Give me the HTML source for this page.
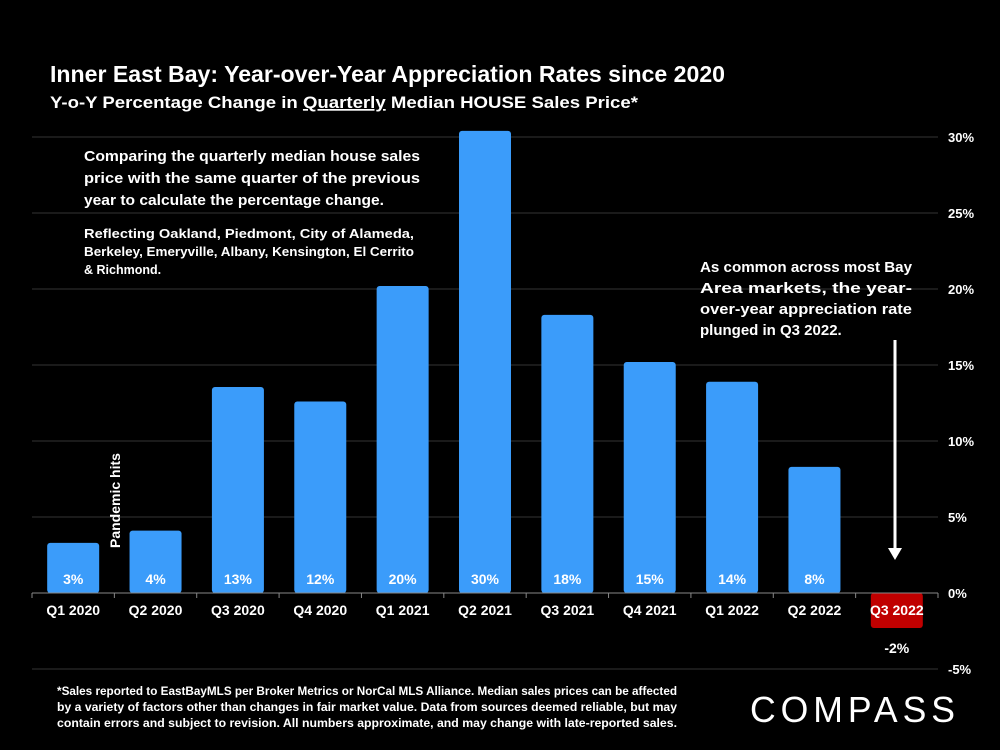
<!DOCTYPE html>
<html><head><meta charset="utf-8"><style>
body{margin:0;background:#000;}
svg{display:block;font-family:"Liberation Sans",sans-serif;}
</style></head><body>
<svg id="c" width="1000" height="750" viewBox="0 0 1000 750">
<rect width="1000" height="750" fill="#000"/>
<text x="50" y="82" fill="#fff" font-size="23" font-weight="bold" textLength="675" lengthAdjust="spacingAndGlyphs">Inner East Bay: Year-over-Year Appreciation Rates since 2020</text>
<text x="50" y="108" fill="#fff" font-size="17" font-weight="bold" textLength="588" lengthAdjust="spacingAndGlyphs">Y-o-Y Percentage Change in <tspan text-decoration="underline">Quarterly</tspan> Median HOUSE Sales Price*</text>
<g id="grid"></g>
<g id="bars"></g>
<g id="ann" font-weight="bold" fill="#fff">
<g font-size="15">
<text x="84" y="161" textLength="336" lengthAdjust="spacingAndGlyphs">Comparing the quarterly median house sales</text>
<text x="84" y="183" textLength="336" lengthAdjust="spacingAndGlyphs">price with the same quarter of the previous</text>
<text x="84" y="205" textLength="300" lengthAdjust="spacingAndGlyphs">year to calculate the percentage change.</text>
</g>
<g font-size="12.5">
<text x="84" y="238" textLength="330" lengthAdjust="spacingAndGlyphs">Reflecting Oakland, Piedmont, City of Alameda,</text>
<text x="84" y="256" textLength="330" lengthAdjust="spacingAndGlyphs">Berkeley, Emeryville, Albany, Kensington, El Cerrito</text>
<text x="84" y="274">&amp; Richmond.</text>
</g>
<g font-size="15">
<text x="700" y="272" textLength="212" lengthAdjust="spacingAndGlyphs">As common across most Bay</text>
<text x="700" y="293" textLength="212" lengthAdjust="spacingAndGlyphs">Area markets, the year-</text>
<text x="700" y="314" textLength="212" lengthAdjust="spacingAndGlyphs">over-year appreciation rate</text>
<text x="700" y="335">plunged in Q3 2022.</text>
</g>
<text transform="translate(120,548) rotate(-90)" font-size="14">Pandemic hits</text>
<line x1="895" y1="340" x2="895" y2="548" stroke="#fff" stroke-width="3"/>
<polygon points="888,548 902,548 895,560" fill="#fff"/>
</g>
<g fill="#fff" font-size="12" font-weight="bold">
<text x="57" y="695" textLength="620" lengthAdjust="spacingAndGlyphs">*Sales reported to EastBayMLS per Broker Metrics or NorCal MLS Alliance. Median sales prices can be affected</text>
<text x="57" y="711" textLength="620" lengthAdjust="spacingAndGlyphs">by a variety of factors other than changes in fair market value. Data from sources deemed reliable, but may</text>
<text x="57" y="727" textLength="620" lengthAdjust="spacingAndGlyphs">contain errors and subject to revision. All numbers approximate, and may change with late-reported sales.</text>
</g>
<text x="750" y="722" fill="#fff" font-size="36" letter-spacing="5" textLength="210" lengthAdjust="spacingAndGlyphs">COMPASS</text>
</svg>
<script>
const categories=["Q1 2020","Q2 2020","Q3 2020","Q4 2020","Q1 2021","Q2 2021","Q3 2021","Q4 2021","Q1 2022","Q2 2022","Q3 2022"];
const values=[3.3,4.1,13.55,12.6,20.2,30.4,18.3,15.2,13.9,8.3,-2.3];
const valueLabels=["3%","4%","13%","12%","20%","30%","18%","15%","14%","8%","-2%"];
const ticks=[-5,0,5,10,15,20,25,30];
const NS="http://www.w3.org/2000/svg";
const x0=32,x1=938,slot=(x1-x0)/categories.length;
const y=v=>593-v*15.2;
const xc=i=>x0+slot*(i+0.5);
function mk(t,a,p){const e=document.createElementNS(NS,t);for(const k in a)e.setAttribute(k,a[k]);p.appendChild(e);return e;}
const g=document.getElementById('grid'),b=document.getElementById('bars');
ticks.forEach(t=>{
 if(t!==0){const l=mk('line',{x1:x0,x2:x1,y1:y(t),y2:y(t),stroke:'#333','stroke-width':1},g);
 
 }
 const tx=mk('text',{x:948,y:y(t)+5,fill:'#fff','font-size':13,'font-weight':'bold'},g);
 tx.textContent=t+'%';
 
 
});
values.forEach((v,i)=>{
 const w=52,top=Math.min(y(v),y(0)),h=Math.abs(y(v)-y(0));
 const r=mk('rect',{x:xc(i)-w/2,y:top,width:w,height:h,rx:3,fill:v<0?'#c00000':'#3b9cfa'},b);
 
 
 const lt=mk('text',{x:xc(i),y:v<0?y(0)+60:y(0)-9,fill:'#fff','font-size':14,'font-weight':'bold','text-anchor':'middle'},b);
 lt.textContent=valueLabels[i];
 
 
});
const ax=mk('line',{x1:x0,x2:x1,y1:y(0),y2:y(0),stroke:'#888','stroke-width':1},b);


for(let i=0;i<=categories.length;i++){const tk=mk('line',{x1:x0+slot*i,x2:x0+slot*i,y1:y(0),y2:y(0)+5,stroke:'#888'},b);
 
 }
categories.forEach((c,i)=>{
 const t=mk('text',{x:xc(i),y:y(0)+22,fill:'#fff','font-size':14,'font-weight':'bold','text-anchor':'middle'},b);
 t.textContent=c;
 
 
});
</script>
</body></html>
